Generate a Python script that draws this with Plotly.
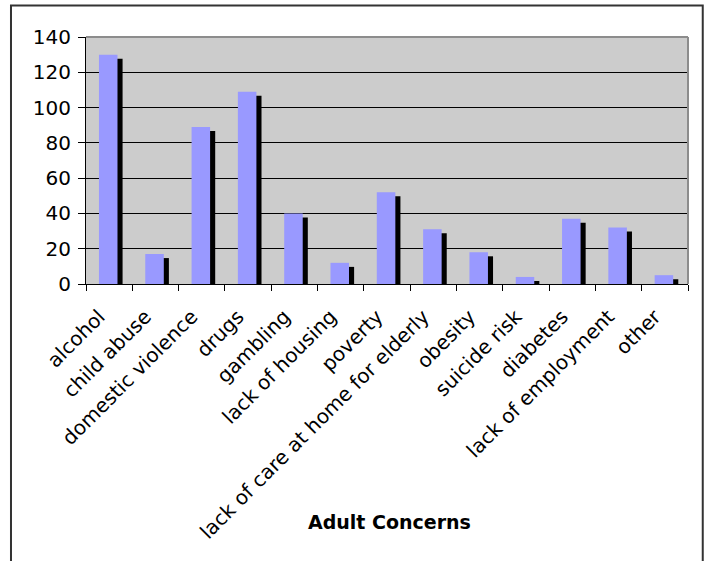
import plotly.graph_objects as go

categories = ["alcohol", "child abuse", "domestic violence", "drugs", "gambling",
              "lack of housing", "poverty", "lack of care at home for elderly",
              "obesity", "suicide risk", "diabetes", "lack of employment", "other"]
values = [130, 17, 89, 109, 40, 12, 52, 31, 18, 4, 37, 32, 5]
y_ticks = [0, 20, 40, 60, 80, 100, 120, 140]
x_title = "Adult Concerns"

# style constants (shadow offset)
SHADOW_DX = 0.11   # category units
SHADOW_DY = 2.3    # value units
BAR_W = 0.4

fig = go.Figure()
fig.add_trace(go.Bar(x=categories, y=values, base=-SHADOW_DY, width=BAR_W,
                     offset=-BAR_W / 2 - 0.02 + SHADOW_DX,
                     marker=dict(color="#000000", line=dict(width=0)),
                     hoverinfo="skip", showlegend=False))
fig.add_trace(go.Bar(x=categories, y=values, width=BAR_W,
                     offset=-BAR_W / 2 - 0.02,
                     marker=dict(color="#9999FF", line=dict(width=0)),
                     showlegend=False))

font = "DejaVu Sans, Verdana, sans-serif"
fig.update_layout(
    width=704, height=561,
    margin=dict(l=86, r=16, t=37, b=277),
    barmode="overlay",
    paper_bgcolor="white",
    plot_bgcolor="#CCCCCC",
    font=dict(family=font, size=20, color="black"),
    xaxis=dict(
        type="category", tickangle=-45, tickson="boundaries",
        ticks="outside", ticklen=6, tickcolor="black", tickwidth=1,
        showline=True, linecolor="black", linewidth=1,
        showgrid=False, tickfont=dict(size=20),
        ticklabelstandoff=12, ticklabelshift=-10,
    ),
    yaxis=dict(
        range=[0, 140], tickvals=y_ticks,
        ticks="outside", ticklen=7, tickcolor="black", tickwidth=1,
        showline=True, linecolor="black", linewidth=1,
        showgrid=True, gridcolor="black", gridwidth=1,
        zeroline=False, tickfont=dict(size=20),
        ticklabelstandoff=3,
    ),
    shapes=[
        # plot area top and right border (gray)
        dict(type="line", xref="paper", yref="paper", x0=0, x1=1, y0=1, y1=1,
             line=dict(color="#8C8C8C", width=2), layer="above"),
        dict(type="line", xref="paper", yref="paper", x0=1, x1=1, y0=0, y1=1,
             line=dict(color="#8C8C8C", width=2), layer="above"),
        # outer chart border
        dict(type="rect", xref="paper", yref="paper",
             x0=-0.1246, x1=1.0245, y0=-1.15, y1=1.128,
             line=dict(color="#333333", width=2), layer="above"),
    ],
    annotations=[
        dict(text="<b>" + x_title + "</b>", xref="paper", yref="paper",
             x=0.5045, y=-0.963, showarrow=False,
             font=dict(family=font, size=19, color="black"),
             xanchor="center", yanchor="middle"),
    ],
)

fig.write_html("out.html")
